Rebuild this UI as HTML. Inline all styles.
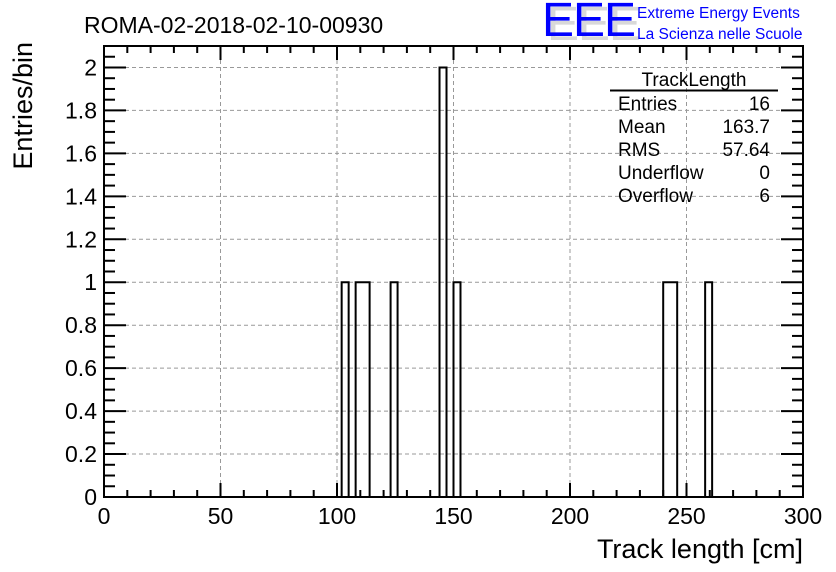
<!DOCTYPE html>
<html><head><meta charset="utf-8"><style>
html,body{margin:0;padding:0;background:#fff;}
svg{display:block;font-family:"Liberation Sans",sans-serif;}
</style></head><body>
<svg id="c" width="836" height="572" viewBox="0 0 836 572">
<rect width="836" height="572" fill="#fff"/>
<g id="grid"></g>
<g id="hist"></g>
<g id="axes"></g>
<text x="84" y="33" font-size="23">ROMA-02-2018-02-10-00930</text>
<g>
<text x="547" y="40" font-size="48" fill="#d8d8d8" letter-spacing="-1">EEE</text>
<text x="542" y="36" font-size="48" fill="#0000ff" letter-spacing="-1">EEE</text>
<text x="637" y="18" font-size="15.5" fill="#0000ff">Extreme Energy Events</text>
<text x="637" y="39" font-size="15.5" fill="#0000ff">La Scienza nelle Scuole</text>
</g>
<g font-size="19">
<text x="694" y="86" text-anchor="middle">TrackLength</text>
<line x1="610" y1="90.5" x2="778" y2="90.5" stroke="#000" stroke-width="2"/>
<text x="618" y="110">Entries</text><text x="770" y="110" text-anchor="end">16</text>
<text x="618" y="133">Mean</text><text x="770" y="133" text-anchor="end">163.7</text>
<text x="618" y="156">RMS</text><text x="770" y="156" text-anchor="end">57.64</text>
<text x="618" y="179">Underflow</text><text x="770" y="179" text-anchor="end">0</text>
<text x="618" y="202">Overflow</text><text x="770" y="202" text-anchor="end">6</text>
</g>
<text x="803" y="558" font-size="27" text-anchor="end">Track length [cm]</text>
<text transform="translate(32,42) rotate(-90)" font-size="27" text-anchor="end">Entries/bin</text>
</svg>
<script>
const binStarts = [102,108,111,123,144,150,240,243,258];
const binCounts = [1,1,1,1,2,1,1,1,1];
const binWidth = 3;
const xTicks = [0,50,100,150,200,250,300];
const yTicks = [0,0.2,0.4,0.6,0.8,1,1.2,1.4,1.6,1.8,2];
const yTickLabels = ["0","0.2","0.4","0.6","0.8","1","1.2","1.4","1.6","1.8","2"];

const X0=104,X1=803,Y0=497,Y1=46;
const xMin=0,xMax=300,yMin=0,yMax=2.1;
function sx(v){return X0+(v-xMin)/(xMax-xMin)*(X1-X0);}
function sy(v){return Y0-(v-yMin)/(yMax-yMin)*(Y0-Y1);}
const NS="http://www.w3.org/2000/svg";
function mk(tag,attrs,parent){const e=document.createElementNS(NS,tag);for(const k in attrs)e.setAttribute(k,attrs[k]);parent.appendChild(e);return e;}
const grid=document.getElementById('grid'),hist=document.getElementById('hist'),axes=document.getElementById('axes');

xTicks.forEach(function(t){
  if(t===xMin||t===xMax)return;
  const l=mk('line',{x1:sx(t),x2:sx(t),y1:Y1,y2:Y0,stroke:'#999','stroke-dasharray':'4,3'},grid);
  
  
});
yTicks.forEach(function(t){
  if(t===yMin)return;
  const l=mk('line',{x1:X0,x2:X1,y1:sy(t),y2:sy(t),stroke:'#999','stroke-dasharray':'4,3'},grid);
  
  
});

// step outline (adjacent bins merged, no internal dividers)
let d='',prevEnd=null;
binStarts.forEach(function(b,i){
  const x0=sx(b),x1=sx(b+binWidth),y=sy(binCounts[i]);
  if(prevEnd!==null && Math.abs(prevEnd-b)<1e-9){
    d+=' L'+x0+','+y+' L'+x1+','+y;
  }else{
    if(prevEnd!==null)d+=' L'+sx(prevEnd)+','+Y0;
    d+=' M'+x0+','+Y0+' L'+x0+','+y+' L'+x1+','+y;
  }
  prevEnd=b+binWidth;
});
if(prevEnd!==null)d+=' L'+sx(prevEnd)+','+Y0;
const p=mk('path',{d:d,fill:'none',stroke:'#000','stroke-width':2},hist);



const frame=mk('rect',{x:X0,y:Y1,width:X1-X0,height:Y0-Y1,fill:'none',stroke:'#000','stroke-width':2},axes);



for(let v=xMin;v<=xMax;v+=10){
  const major=v%50===0,len=major?14:7;
  mk('line',{x1:sx(v),x2:sx(v),y1:Y0,y2:Y0-len,stroke:'#000','stroke-width':2},axes);
  mk('line',{x1:sx(v),x2:sx(v),y1:Y1,y2:Y1+len,stroke:'#000','stroke-width':2},axes);
}
xTicks.forEach(function(t){
  const tx=mk('text',{x:sx(t),y:Y0+27,'font-size':23,'text-anchor':'middle'},axes);
  tx.textContent=String(t);
  
  
});
for(let k=0;k<=42;k++){
  const v=k*0.05,major=k%4===0,len=major?22:11;
  mk('line',{x1:X0,x2:X0+len,y1:sy(v),y2:sy(v),stroke:'#000','stroke-width':2},axes);
  mk('line',{x1:X1,x2:X1-len,y1:sy(v),y2:sy(v),stroke:'#000','stroke-width':2},axes);
}
yTicks.forEach(function(t,i){
  const tx=mk('text',{x:X0-7,y:sy(t)+8,'font-size':23,'text-anchor':'end'},axes);
  tx.textContent=yTickLabels[i];
  
  
});
</script>
</body></html>
